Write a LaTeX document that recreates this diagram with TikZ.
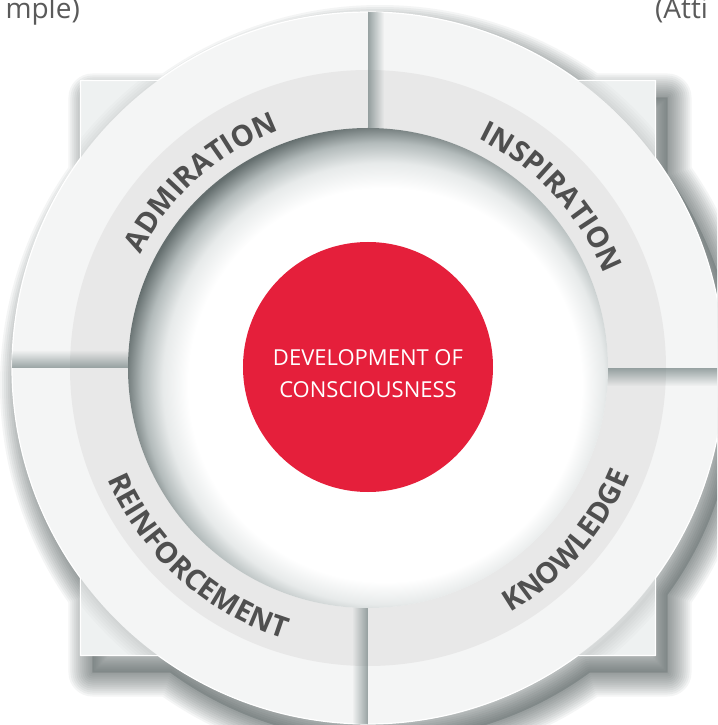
\documentclass[tikz,border=0pt]{standalone}
\usepackage{fontspec}
\setmainfont{Open Sans}
\usetikzlibrary{decorations.text,fadings}

\definecolor{ringcol}{HTML}{F4F5F5}
\definecolor{squarecol}{HTML}{EEF1F1}
\definecolor{bandcol}{HTML}{E8E8E8}
\definecolor{shadowcol}{HTML}{2F3B3B}
\definecolor{divdark}{HTML}{718080}
\definecolor{corered}{HTML}{E51F3B}
\definecolor{labelgray}{HTML}{4F4F4F}
\definecolor{topgray}{HTML}{5A5A5A}
\definecolor{rimA}{HTML}{E7EAEA}
\definecolor{rimB}{HTML}{B3BBBB}
\definecolor{rimC}{HTML}{646E6E}

% recessed dish: dark rim at the upper left, light rim at the lower right
\pgfdeclareradialshading{dishshade}{\pgfpoint{3bp}{-3bp}}{%
  color(0bp)=(white); color(20.5bp)=(white); color(23bp)=(rimA);
  color(25bp)=(rimB); color(26.8bp)=(rimC); color(50bp)=(rimC)}

\tikzfading[name=fade right, left color=transparent!0, right color=transparent!100]
\tikzfading[name=fade left, left color=transparent!100, right color=transparent!0]
\tikzfading[name=fade up, bottom color=transparent!0, top color=transparent!100]
\tikzfading[name=fade down, top color=transparent!0, bottom color=transparent!100]

% outline of the square plate joined with the outer disc
\def\unionpath{(-36.1:356pt) arc[start angle=-36.1,end angle=36.1,radius=356pt]
  -- (287.5,287.5) -- (53.9:356pt) arc[start angle=53.9,end angle=126.1,radius=356pt]
  -- (-287.5,287.5) -- (143.9:356pt) arc[start angle=143.9,end angle=216.1,radius=356pt]
  -- (-287.5,-287.5) -- (233.9:356pt) arc[start angle=233.9,end angle=306.1,radius=356pt]
  -- (287.5,-287.5) -- cycle}

\newcommand\lblfmt{\color{labelgray}\fontsize{29}{29}\selectfont\bfseries}

\tikzset{
  corecircle/.style={circle, fill=corered, minimum size=250pt, inner sep=0pt},
  coretext/.style={text=white, align=center, inner sep=0pt,
    font=\fontsize{22}{32}\selectfont},
  toptext/.style={text=topgray, inner sep=0pt, font=\fontsize{28}{28}\selectfont},
  arclabel/.style={decorate, decoration={text along path, text align=center, text={|\lblfmt|#1}}}
}

\begin{document}
\begin{tikzpicture}[x=1pt,y=1pt]
\useasboundingbox (-368,-357) rectangle (349,368);
\clip (-368,-357) rectangle (349,368);
\fill[white] (-368,-357) rectangle (349,368);

% soft drop shadow of the whole plate, thrown to the lower right
\begin{scope}[shift={(12,-17)}]
  \foreach \w in {4,8,...,48}
    \draw[shadowcol, line width=\w pt, draw opacity=0.05, line join=round] \unionpath;
  \fill[shadowcol, opacity=0.22] \unionpath;
\end{scope}

% plate: square corners and the outer ring
\begin{scope}
  \clip \unionpath;
  \fill[squarecol] (-360,-360) rectangle (360,360);
  \foreach \w in {3,8,...,33}
    \draw[shadowcol, line width=\w pt, draw opacity=0.018] (3,-4) circle (356pt);
  \fill[ringcol] (0,0) circle (356pt);
\end{scope}
\draw[white, line width=1.2pt, line join=round] \unionpath;

% grey band carrying the labels
\fill[bandcol, even odd rule] (0,0) circle (298pt) (0,0) circle (240pt);

% shaded seams between the four segments
\begin{scope}
  \clip (0,0) circle (356pt);
  \fill[divdark, path fading=fade right, fill opacity=0.7] (0,0) rectangle (16,360);
  \fill[divdark, path fading=fade up, fill opacity=0.7] (-360,0) rectangle (0,18);
  \fill[divdark, path fading=fade down, fill opacity=0.7] (0,-18) rectangle (360,0);
  \fill[divdark, path fading=fade left, fill opacity=0.7] (-16,-360) rectangle (0,0);
\end{scope}

% recessed centre
\shade[shading=dishshade] (0,0) circle (240pt);

\node[corecircle] (core) at (0,1) {};
\node[coretext] (coretext) at (0,-6) {DEVELOPMENT OF\\CONSCIOUSNESS};

% labels along the band
\path[arclabel=ADMIRATION] (177:254pt) arc[start angle=177, end angle=87, radius=254pt];
\path[arclabel=INSPIRATION] (88:254pt) arc[start angle=88, end angle=-2, radius=254pt];
\path[arclabel=KNOWLEDGE] (-86:283pt) arc[start angle=-86, end angle=4, radius=283pt];
\path[arclabel=REINFORCEMENT] (183:283pt) arc[start angle=183, end angle=273, radius=283pt];

\node[toptext, anchor=base east] (example) at (-288,349) {mple)};
\node[toptext, anchor=base west] (attitude) at (287,349) {(Atti};
\end{tikzpicture}
\end{document}
